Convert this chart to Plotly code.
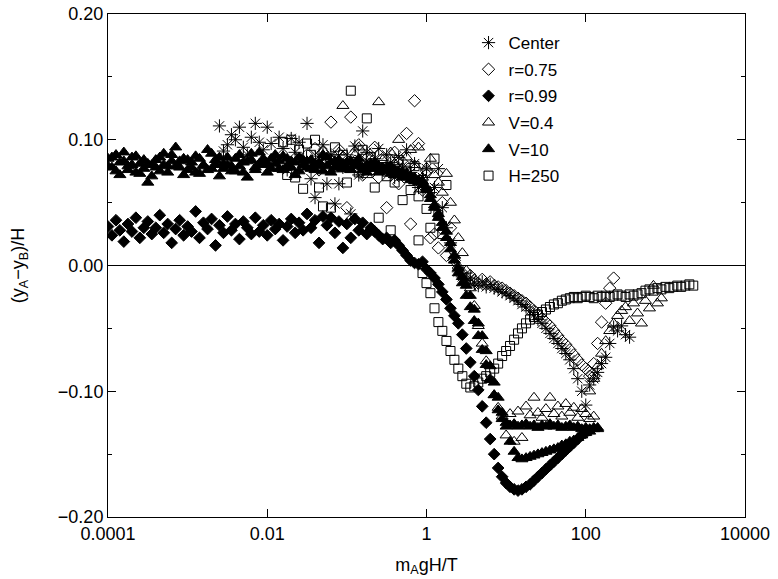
import plotly.graph_objects as go

# shared x sampling (20 points per decade), values of m_A g H / T
x_grid = [
    1.00e-4, 1.12e-4, 1.26e-4, 1.41e-4, 1.58e-4, 1.78e-4, 2.00e-4, 2.24e-4, 2.51e-4, 2.82e-4,
    3.16e-4, 3.55e-4, 3.98e-4, 4.47e-4, 5.01e-4, 5.62e-4, 6.31e-4, 7.08e-4, 7.94e-4, 8.91e-4,
    1.00e-3, 1.12e-3, 1.26e-3, 1.41e-3, 1.58e-3, 1.78e-3, 2.00e-3, 2.24e-3, 2.51e-3, 2.82e-3,
    3.16e-3, 3.55e-3, 3.98e-3, 4.47e-3, 5.01e-3, 5.62e-3, 6.31e-3, 7.08e-3, 7.94e-3, 8.91e-3,
    1.00e-2, 1.12e-2, 1.26e-2, 1.41e-2, 1.58e-2, 1.78e-2, 2.00e-2, 2.24e-2, 2.51e-2, 2.82e-2,
    3.16e-2, 3.55e-2, 3.98e-2, 4.47e-2, 5.01e-2, 5.62e-2, 6.31e-2, 7.08e-2, 7.94e-2, 8.91e-2,
    1.00e-1, 1.12e-1, 1.26e-1, 1.41e-1, 1.58e-1, 1.78e-1, 2.00e-1, 2.24e-1, 2.51e-1, 2.82e-1,
    3.16e-1, 3.55e-1, 3.98e-1, 4.47e-1, 5.01e-1, 5.62e-1, 6.31e-1, 7.08e-1, 7.94e-1, 8.91e-1,
    1.00, 1.12, 1.26, 1.41, 1.58, 1.78, 2.00, 2.24, 2.51, 2.82,
    3.16, 3.55, 3.98, 4.47, 5.01, 5.62, 6.31, 7.08, 7.94, 8.91,
    10.0, 11.2, 12.6, 14.1, 15.8, 17.8, 20.0, 22.4, 25.1, 28.2,
    31.6, 35.5, 39.8, 44.7, 50.1, 56.2, 63.1, 70.8, 79.4, 89.1,
    100, 112, 126, 141, 158, 178, 200, 224, 251, 282,
    316, 355, 398, 447, 501, 562, 631, 708, 794, 891,
    1000, 1120, 1260, 1410, 1580, 1780, 2000, 2240,
]

# ---- Center (asterisks) ----
center_start = 28
center_y = [
    0.111, 0.091, 0.096, 0.104, 0.100, 0.110, 0.094, 0.088, 0.102, 0.113,
    0.098, 0.092, 0.110, 0.097, 0.085, 0.102, 0.093, 0.076, 0.101, 0.090,
    0.098, 0.082, 0.113, 0.069, 0.054, 0.087, 0.096, 0.065, 0.088, 0.049,
    0.065, 0.078, 0.088, 0.041, 0.095, 0.072, 0.107, 0.090, 0.080, 0.085,
    0.093, 0.076, 0.088, 0.082, 0.070, 0.086, 0.079, 0.092, 0.074, 0.081,
    0.062, 0.070, 0.077, 0.058, 0.062, 0.077, 0.046, 0.030, 0.018, 0.006,
    -0.005, -0.009, -0.012, -0.010, -0.014, -0.016, -0.013, -0.017, -0.015, -0.018,
    -0.019, -0.021, -0.022, -0.024, -0.026, -0.028, -0.031, -0.033, -0.036, -0.039,
    -0.043, -0.046, -0.050, -0.054, -0.058, -0.062, -0.066, -0.070, -0.075, -0.082,
    -0.090, -0.100, -0.111,
]
center_arm_start = 121
center_arm_y = [-0.095, -0.090, -0.085, -0.078, -0.073, -0.062, -0.049, -0.052, -0.048, -0.055, -0.057]

# ---- r=0.75 (open diamonds) ----
r075_start = 50
r075_y = [
    0.088, 0.080, 0.093, 0.076, 0.090, 0.084, 0.114, 0.079, 0.092, 0.086,
    0.046, 0.118, 0.083, 0.096, 0.072, 0.088, 0.080, 0.094, 0.070, 0.085,
    0.046, 0.078, 0.090, 0.065, 0.082, 0.105, 0.033, 0.131, 0.097, 0.060,
    0.075, 0.022, 0.025, 0.014, 0.050, 0.008, 0.030, 0.004, -0.002, -0.006,
    -0.010, -0.008, -0.012, -0.014, -0.011, -0.015, -0.013, -0.016,
    -0.017, -0.018, -0.020, -0.022, -0.024, -0.026, -0.028, -0.030, -0.033, -0.036,
    -0.039, -0.042, -0.045, -0.048, -0.052, -0.056, -0.060, -0.063, -0.067, -0.071,
    -0.075, -0.079, -0.082, -0.085, -0.088,
]
r075_arm_start = 121
r075_arm_y = [-0.088, -0.078, -0.062, -0.045, -0.030, -0.018, -0.010]

# ---- r=0.99 (filled diamonds) ----
r099_start = 0
r099_y = [
    0.031, 0.024, 0.036, 0.028, 0.019, 0.033, 0.027, 0.038, 0.022, 0.030,
    0.035, 0.025, 0.030, 0.040, 0.026, 0.033, 0.018, 0.029, 0.036, 0.024,
    0.031, 0.027, 0.043, 0.022, 0.034, 0.029, 0.037, 0.016, 0.032, 0.026,
    0.039, 0.028, 0.033, 0.021, 0.035, 0.030, 0.025, 0.038, 0.027, 0.032,
    0.024, 0.036, 0.029, 0.033, 0.020, 0.031, 0.037, 0.026, 0.034, 0.028,
    0.041, 0.030, 0.036, 0.018, 0.039, 0.032, 0.038, 0.026, 0.035, 0.014,
    0.033, 0.022, 0.037, 0.028, 0.034, 0.025, 0.030, 0.027, 0.024, 0.021,
    0.022, 0.018, 0.020, 0.016, 0.012, 0.008, 0.004, 0.002, 0.001, 0.003,
    -0.003, -0.006, -0.010, -0.015, -0.021, -0.027, -0.034, -0.040, -0.046, -0.055,
    -0.066, -0.077, -0.088, -0.099, -0.112, -0.125, -0.138, -0.150, -0.161, -0.168,
    -0.173, -0.176, -0.178, -0.179, -0.178, -0.176, -0.174, -0.171, -0.168, -0.165,
    -0.162, -0.159, -0.156, -0.153, -0.150, -0.147, -0.144, -0.141, -0.138, -0.135,
    -0.133, -0.131,
]

# ---- V=0.4 (open triangles) ----
v04_start = 56
v04_y = [
    0.085, 0.078, 0.090, 0.127, 0.082, 0.076, 0.088, 0.094, 0.080, 0.072,
    0.086, 0.079, 0.130, 0.084, 0.075, 0.090, 0.081, 0.100, 0.078, 0.086,
    0.092, 0.080, 0.094, 0.070, 0.078, 0.085, 0.072, 0.066, 0.058, 0.073,
    0.050, 0.036, 0.022, 0.010, -0.004, -0.018, -0.032, -0.048, -0.062, -0.076,
    -0.090, -0.103, -0.113, -0.120, -0.135, -0.118, -0.140, -0.116, -0.137, -0.112,
    -0.119, -0.105, -0.117, -0.121, -0.114, -0.105, -0.118, -0.112, -0.120, -0.110,
    -0.117, -0.113, -0.121, -0.114, -0.118, -0.122, -0.120,
]
v04_arm_start = 121
v04_arm_y = [
    -0.100, -0.090, -0.080, -0.070, -0.060, -0.052, -0.046, -0.040, -0.036, -0.033,
    -0.044, -0.030, -0.038, -0.046, -0.028, -0.034, -0.016, -0.030, -0.026,
]

# ---- V=10 (filled triangles): increasing and decreasing sweeps ----
v10_up_start = 0
v10_up_y = [
    0.085, 0.078, 0.088, 0.072, 0.083, 0.079, 0.086, 0.074, 0.081, 0.077,
    0.066, 0.080, 0.084, 0.075, 0.089, 0.079, 0.083, 0.094, 0.078, 0.085,
    0.076, 0.082, 0.087, 0.073, 0.080, 0.092, 0.077, 0.084, 0.071, 0.081,
    0.086, 0.079, 0.075, 0.088, 0.082, 0.070, 0.084, 0.078, 0.090, 0.080,
    0.074, 0.085, 0.081, 0.077, 0.087, 0.079, 0.083, 0.072, 0.086, 0.080,
    0.078, 0.084, 0.076, 0.082, 0.088, 0.079, 0.074, 0.083, 0.080, 0.077,
    0.082, 0.076, 0.080, 0.085, 0.078, 0.074, 0.081, 0.077, 0.079, 0.075,
    0.078, 0.073, 0.076, 0.072, 0.074, 0.070, 0.071, 0.067, 0.068, 0.064,
    0.062, 0.056, 0.048, 0.041, 0.034, 0.027, 0.018, 0.008, -0.002, -0.009,
    -0.016, -0.024, -0.035, -0.046, -0.056, -0.068, -0.080, -0.093, -0.105, -0.117,
    -0.128, -0.140, -0.148, -0.153, -0.154, -0.153, -0.152, -0.151, -0.150, -0.149,
    -0.148, -0.147, -0.146, -0.145, -0.143, -0.142, -0.140, -0.139, -0.137, -0.135,
    -0.133, -0.132, -0.130, -0.129,
]
v10_down_start = 0
v10_down_y = [
    0.079, 0.086, 0.075, 0.082, 0.090, 0.076, 0.080, 0.087, 0.073, 0.084,
    0.081, 0.071, 0.078, 0.086, 0.080, 0.074, 0.088, 0.079, 0.083, 0.072,
    0.084, 0.078, 0.074, 0.085, 0.079, 0.076, 0.089, 0.080, 0.086, 0.077,
    0.080, 0.075, 0.085, 0.079, 0.074, 0.083, 0.089, 0.076, 0.081, 0.085,
    0.081, 0.077, 0.088, 0.083, 0.076, 0.085, 0.078, 0.082, 0.075, 0.084,
    0.083, 0.077, 0.081, 0.079, 0.075, 0.086, 0.082, 0.078, 0.084, 0.081,
    0.077, 0.083, 0.079, 0.081, 0.076, 0.080, 0.077, 0.082, 0.074, 0.078,
    0.076, 0.079, 0.072, 0.075, 0.070, 0.073, 0.068, 0.070, 0.066, 0.067,
    0.060, 0.053, 0.046, 0.038, 0.030, 0.022, 0.013, 0.004, -0.006, -0.014,
    -0.024, -0.033, -0.044, -0.056, -0.067, -0.079, -0.091, -0.103, -0.115, -0.122,
    -0.125, -0.127, -0.126, -0.128, -0.127, -0.126, -0.128, -0.127, -0.129, -0.127,
    -0.128, -0.126, -0.128, -0.127, -0.129, -0.128, -0.127, -0.129, -0.128, -0.130,
    -0.129, -0.130, -0.129, -0.130,
]

# ---- H=250 (open squares) ----
h250_start = 44
h250_y = [
    0.098, 0.072, 0.100, 0.070, 0.092, 0.061, 0.097, 0.088, 0.100, 0.062,
    0.047, 0.085, 0.046, 0.094, 0.078, 0.088, 0.066, 0.139, 0.082, 0.074,
    0.092, 0.117, 0.086, 0.062, 0.038, 0.080, 0.071, 0.028, 0.066, 0.084,
    0.052, 0.074, 0.060, 0.079,
    0.020, -0.006, -0.014, -0.022, -0.034, -0.045, -0.052, -0.060, -0.068, -0.075,
    -0.082, -0.088, -0.094, -0.097, -0.096, -0.093, -0.090, -0.088, -0.085, -0.082,
    -0.078, -0.072, -0.068, -0.064, -0.059, -0.054, -0.050, -0.046, -0.043, -0.041,
    -0.039, -0.037, -0.035, -0.033, -0.031, -0.030, -0.028, -0.027, -0.026, -0.025,
    -0.026, -0.025, -0.024, -0.025, -0.026, -0.024, -0.025, -0.024, -0.025, -0.024,
    -0.023, -0.024, -0.025, -0.023, -0.024, -0.023, -0.022, -0.020, -0.019, -0.020,
    -0.018, -0.019, -0.017, -0.018, -0.017, -0.016, -0.017, -0.016, -0.015, -0.016,
]
h250_extra_start = 78
h250_extra_y = [0.055, 0.068, 0.045, 0.030, 0.085, 0.040, 0.025, 0.064]

x_tick_vals = [1e-4, 1e-2, 1, 1e2, 1e4]
x_tick_text = ["0.0001", "0.01", "1", "100", "10000"]
y_tick_vals = [-0.2, -0.1, 0.0, 0.1, 0.2]


def branch(start, ys):
    return x_grid[start:start + len(ys)], list(ys)


def series(*branches):
    xs, ys = [], []
    for s, y in branches:
        bx, by = branch(s, y)
        xs += bx
        ys += by
    return xs, ys


FONT = "Liberation Sans, Arial, Helvetica, sans-serif"
traces = [
    ("Center", series((center_start, center_y), (center_arm_start, center_arm_y)), "asterisk-open", 11),
    ("r=0.75", series((r075_start, r075_y), (r075_arm_start, r075_arm_y)), "diamond-open", 9.5),
    ("r=0.99", series((r099_start, r099_y)), "diamond", 9),
    ("V=0.4", series((v04_start, v04_y), (v04_arm_start, v04_arm_y)), "triangle-up-open", 10.5),
    ("V=10", series((v10_up_start, v10_up_y), (v10_down_start, v10_down_y)), "triangle-up", 10.5),
    ("H=250", series((h250_start, h250_y), (h250_extra_start, h250_extra_y)), "square-open", 9),
]

fig = go.Figure()
for name, (xs, ys), sym, size in traces:
    fig.add_trace(go.Scatter(
        x=xs, y=ys, mode="markers", name=name, legendgroup=name,
        marker=dict(symbol=sym, size=size, color="black",
                    line=dict(color="black", width=1)),
    ))

fig.update_layout(
    width=778, height=579,
    margin=dict(l=108, r=33, t=14, b=62, autoexpand=False),
    paper_bgcolor="white", plot_bgcolor="white",
    font=dict(family=FONT, size=18, color="black"),
    legend=dict(x=0.566, y=0.978, xanchor="left", yanchor="top",
                bgcolor="rgba(0,0,0,0)", font=dict(size=17), tracegroupgap=1.5),
    showlegend=True,
)
fig.update_xaxes(
    type="log", range=[-4, 4], tickvals=x_tick_vals, ticktext=x_tick_text,
    ticks="inside", ticklen=8, tickcolor="black", showline=True, linecolor="black",
    linewidth=1, mirror="ticks", showgrid=False, zeroline=False, automargin=False,
    tickfont=dict(size=18),
    title=dict(text="m<sub>A</sub>gH/T", standoff=15, font=dict(size=18)),
)
fig.update_yaxes(
    range=[-0.2, 0.2], tickvals=y_tick_vals, tickformat=".2f",
    ticks="inside", ticklen=8, tickcolor="black", showline=True, linecolor="black",
    linewidth=1, mirror="ticks", showgrid=False, automargin=False,
    zeroline=True, zerolinecolor="black", zerolinewidth=1,
    tickfont=dict(size=18),
    minor=dict(tickvals=[-0.15, -0.05, 0.05, 0.15], ticks="inside", ticklen=4,
               tickcolor="black", showgrid=False),
    title=dict(text="(y<sub>A</sub>\u2212y<sub>B</sub>)/H", standoff=28, font=dict(size=18)),
)

fig.write_html(
    "out.html",
    config={"displayModeBar": False},
    post_script="document.body.style.margin='0px';document.body.style.padding='0px';",
)
